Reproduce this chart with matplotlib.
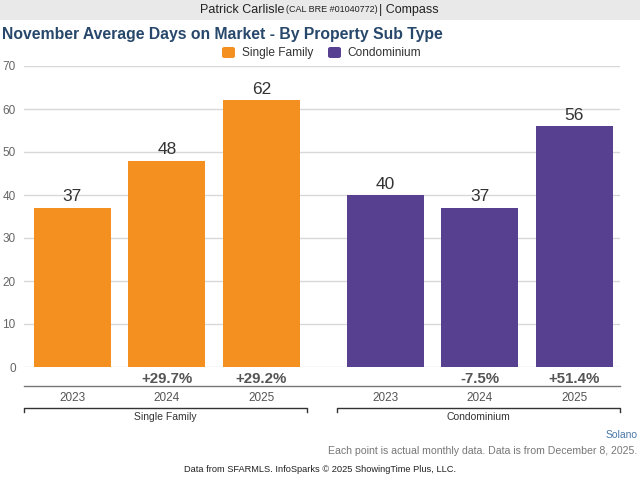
import matplotlib.pyplot as plt
import matplotlib.transforms as mtransforms
from matplotlib.patches import Rectangle, FancyBboxPatch

plt.rcParams['font.family'] = ['Liberation Sans', 'DejaVu Sans']

groups = ['Single Family', 'Condominium']
years = ['2023', '2024', '2025']
single_family = [37, 48, 62]
condominium = [40, 37, 56]
sf_change = ['', '+29.7%', '+29.2%']
condo_change = ['', '-7.5%', '+51.4%']

orange = '#f39020'
purple = '#574090'

fig = plt.figure(figsize=(6.4, 4.8), dpi=100)
ax = fig.add_axes([24 / 640, 113 / 480, 596 / 640, 301 / 480])

# header band
fig.patches.append(Rectangle((0, 460 / 480), 1, 20 / 480, transform=fig.transFigure,
                             facecolor='#e9e9e9', edgecolor='none', zorder=0))
fig.text(200 / 640, 470 / 480, 'Patrick Carlisle', ha='left', va='center', fontsize=9, color='#222')
fig.text(286 / 640, 470 / 480, '(CAL BRE #01040772)', ha='left', va='center', fontsize=6.5, color='#222')
fig.text(379 / 640, 470 / 480, '| Compass', ha='left', va='center', fontsize=9, color='#222')

fig.text(2 / 640, 446 / 480, 'November Average Days on Market - By Property Sub Type',
         ha='left', va='center', fontsize=11.3, fontweight='bold', color='#27476b')

# legend
for x0, col, label, tx in ((222, orange, 'Single Family', 242), (328, purple, 'Condominium', 347)):
    fig.patches.append(FancyBboxPatch((x0 / 640, 422 / 480), 13 / 640, 11 / 480,
                                      boxstyle='round,pad=0,rounding_size=0.004',
                                      transform=fig.transFigure, facecolor=col, edgecolor='none'))
    fig.text(tx / 640, 427 / 480, label, ha='left', va='center', fontsize=8.6, color='#333')

x_sf = [0, 1, 2]
x_co = [3.31, 4.31, 5.31]
w = 0.815

ax.bar(x_sf, single_family, width=w, color=orange, zorder=2)
ax.bar(x_co, condominium, width=w, color=purple, zorder=2)
for xs, vals in ((x_sf, single_family), (x_co, condominium)):
    for x, v in zip(xs, vals):
        ax.text(x, v + 0.8, str(v), ha='center', va='bottom', fontsize=12.5, color='#333', zorder=3)

ax.set_xlim(-0.513, 5.794)
ax.set_ylim(0, 70)
ax.set_yticks(range(0, 71, 10))
ax.yaxis.grid(True, color='#d8d8d8', linewidth=1)
ax.set_axisbelow(True)
ax.tick_params(axis='y', length=0, labelsize=8.5, labelcolor='#666', pad=6)
ax.set_xticks([])
for s in ax.spines.values():
    s.set_visible(False)

trans = mtransforms.blended_transform_factory(ax.transData, fig.transFigure)
for xs, ch in ((x_sf, sf_change), (x_co, condo_change)):
    for x, c, yr in zip(xs, ch, years):
        ax.text(x, 101 / 480, c, transform=trans, ha='center', va='center', fontsize=10.8,
                fontweight='bold', color='#555')
        ax.text(x, 82 / 480, yr, transform=trans, ha='center', va='center', fontsize=8.5, color='#555')

# separator line under change labels
fig.add_artist(plt.Line2D([24 / 640, 620 / 640], [94 / 480, 94 / 480], color='#777', linewidth=1))

# group brackets
for (x0, x1), g in zip(((24, 307), (337, 620)), groups):
    y = 72 / 480
    fig.add_artist(plt.Line2D([x0 / 640, x0 / 640, x1 / 640, x1 / 640],
                              [68 / 480, y, y, 68 / 480], color='#333', linewidth=1))
    fig.text((x0 + x1) / 2 / 640, 63 / 480, g, ha='center', va='center', fontsize=7.5, color='#333')

fig.text(638 / 640, 45 / 480, 'Solano', ha='right', va='center', fontsize=7.5, color='#4a77a8')
fig.text(637 / 640, 29 / 480, 'Each point is actual monthly data. Data is from December 8, 2025.',
         ha='right', va='center', fontsize=7.6, color='#777')
fig.text(0.5, 11 / 480, 'Data from SFARMLS. InfoSparks \u00a9 2025 ShowingTime Plus, LLC.',
         ha='center', va='center', fontsize=6.7, color='#222')

fig.savefig('out.png', dpi=100)
